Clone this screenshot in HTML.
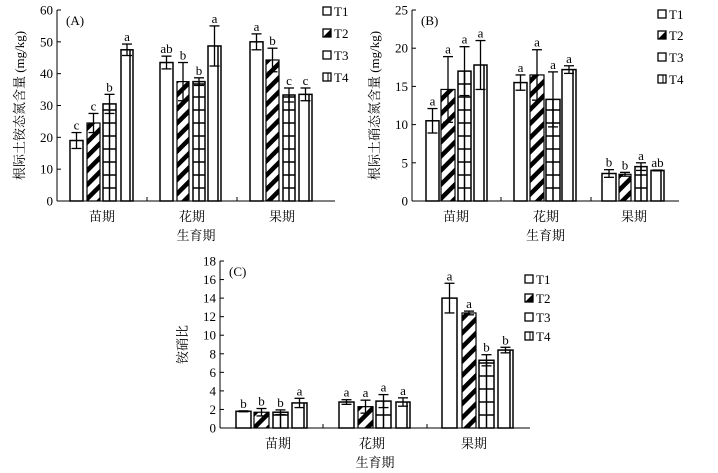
<!DOCTYPE html>
<html><head><meta charset="utf-8"><style>
html,body{margin:0;padding:0;background:#fff;width:718px;height:473px;overflow:hidden}
svg{display:block}
text{font-family:"Liberation Serif","Noto Serif CJK SC",serif;fill:#000}
</style></head><body>
<svg id="s" width="718" height="473" xmlns="http://www.w3.org/2000/svg">
<defs>
<pattern id="diag" patternUnits="userSpaceOnUse" width="10" height="10" patternTransform="rotate(45)">
<rect width="10" height="10" fill="#fff"/><rect x="0" y="0" width="4.5" height="10" fill="#000"/>
</pattern>
</defs>
</svg>
<script>
const S=document.getElementById('s');let h='';
function chart(c){
 const {ax,y0,ytop,xr,max,step,ticks,bars,data,labs,legX,legY,ylab,tag,groupX,dec}=c;
 const sc=(y0-ytop)/max;
 h+=`<line x1="${ax}" y1="${ytop}" x2="${ax}" y2="${y0}" stroke="#000"/>`;
 h+=`<line x1="${ax}" y1="${y0}" x2="${xr}" y2="${y0}" stroke="#000"/>`;
 for(let v=0;v<=max+1e-9;v+=step){const y=y0-v*sc;
  h+=`<line x1="${ax}" y1="${y}" x2="${ax+4}" y2="${y}" stroke="#000"/>`;
  h+=`<text x="${ax-4}" y="${y+4.5}" font-size="13" text-anchor="end">${v}</text>`;}
 ticks.forEach(t=>h+=`<line x1="${t}" y1="${y0}" x2="${t}" y2="${y0-4}" stroke="#000"/>`);
 h+=`<text x="${ax+9}" y="${ytop+15}" font-size="13">${tag}</text>`;
 const gn=['苗期','花期','果期'];
 groupX.forEach((g,i)=>h+=`<text x="${g}" y="${y0+20}" font-size="13" text-anchor="middle">${gn[i]}</text>`);
 h+=`<text x="${(ax+xr)/2}" y="${y0+39}" font-size="13" text-anchor="middle">生育期</text>`;
 h+=`<text transform="translate(${ax-33},${(y0+ytop)/2}) rotate(-90)" font-size="13" text-anchor="middle">${ylab}</text>`;
 for(let g=0;g<3;g++)for(let k=0;k<4;k++){
  const [x1,x2]=bars[g][k];const w=x2-x1;const [v,e]=data[g][k];const y=y0-v*sc;const hh=v*sc;
  if(k==1){h+=`<rect x="${x1}" y="${y}" width="${w}" height="${hh}" fill="url(#diag)" stroke="#000" stroke-width="1.2"/>`;}
  else{h+=`<rect x="${x1}" y="${y}" width="${w}" height="${hh}" fill="#fff" stroke="#000" stroke-width="1.5"/>`;}
  if(k==2){const m=(x1+x2)/2;h+=`<line x1="${m}" y1="${y}" x2="${m}" y2="${y0}" stroke="#000" stroke-width="1.5"/>`;
   for(let yy=y0-13;yy>y+2;yy-=13)h+=`<line x1="${x1}" y1="${yy}" x2="${x2}" y2="${yy}" stroke="#000" stroke-width="1.5"/>`;}
  if(k==3){h+=`<line x1="${x2-3}" y1="${y}" x2="${x2-3}" y2="${y0}" stroke="#000" stroke-width="1.5"/>`;}
  const m=(x1+x2)/2,ya=y0-(v+e)*sc,yb=y0-(v-e)*sc;
  h+=`<line x1="${m}" y1="${ya}" x2="${m}" y2="${yb}" stroke="#000" stroke-width="1.3"/>`;
  h+=`<line x1="${m-5}" y1="${ya}" x2="${m+5}" y2="${ya}" stroke="#000" stroke-width="1.3"/>`;
  h+=`<line x1="${m-5}" y1="${yb}" x2="${m+5}" y2="${yb}" stroke="#000" stroke-width="1.3"/>`;
  h+=`<text x="${m}" y="${ya-3}" font-size="13" text-anchor="middle">${labs[g][k]}</text>`;
 }
 for(let k=0;k<4;k++){const x=legX,y=legY[k];
  if(k==1)h+=`<rect x="${x}" y="${y-4}" width="8" height="8" fill="#fff" stroke="#000" stroke-width="1.3"/><path d="M${x} ${y+4}L${x+8} ${y-4}L${x+8} ${y+4}Z" fill="#000"/>`;
  else h+=`<rect x="${x}" y="${y-4}" width="8" height="8" fill="#fff" stroke="#000" stroke-width="1.3"/>`;
  if(k==3)h+=`<line x1="${x+5}" y1="${y-4}" x2="${x+5}" y2="${y+4}" stroke="#000"/>`;
  h+=`<text x="${x+11}" y="${y+5}" font-size="13">T${k+1}</text>`;}
}
chart({ax:57,y0:201,ytop:10,xr:335,max:60,step:10,ticks:[147,237],groupX:[102,192,282],tag:'(A)',ylab:'根际土铵态氮含量 (mg/kg)',
 bars:[[[70,83],[87,100],[103,116],[121,133]],[[160,173],[177,189],[193,205],[208,221]],[[250,263],[266,279],[283,295],[299,312]]],
 data:[[[19,2.5],[24.5,3],[30.5,3],[47.5,1.8]],[[43.5,2],[37.5,6],[37.5,1.2],[48.7,6.3]],[[50,2.5],[44.3,3.7],[33.3,2.2],[33.5,2]]],
 labs:[['c','c','b','a'],['ab','b','b','a'],['a','b','c','c']],legX:323,legY:[11,33,55,77]});
chart({ax:412,y0:201,ytop:10,xr:679,max:25,step:5,ticks:[501,591],groupX:[456,546,634],tag:'(B)',ylab:'根际土硝态氮含量 (mg/kg)',
 bars:[[[426,439],[441,455],[458,471],[474,487]],[[514,527],[530,544],[546,560],[562,576]],[[602,616],[619,631],[635,647],[651,664]]],
 data:[[[10.5,1.6],[14.6,4.3],[17,3.2],[17.8,3.2]],[[15.5,1],[16.5,3.3],[13.3,3.6],[17.2,0.5]],[[3.6,0.5],[3.5,0.25],[4.5,0.5],[4.0,0.05]]],
 labs:[['a','a','a','a'],['a','a','a','a'],['b','b','a','ab']],legX:658,legY:[14,35,57,79]});
chart({ax:220,y0:428,ytop:261,xr:530,max:18,step:2,ticks:[323,427],groupX:[278,372,474],tag:'(C)',ylab:'铵硝比',
 bars:[[[236,251],[254,269],[273,288],[292,307]],[[339,354],[358,373],[376,391],[396,410]],[[442,457],[462,476],[479,494],[498,513]]],
 data:[[[1.8,0.05],[1.7,0.4],[1.7,0.25],[2.7,0.5]],[[2.8,0.25],[2.3,0.7],[2.9,0.7],[2.8,0.45]],[[14,1.6],[12.4,0.2],[7.3,0.6],[8.4,0.3]]],
 labs:[['b','b','b','a'],['a','a','a','a'],['a','a','b','b']],legX:525,legY:[279,298,317,336]});
S.insertAdjacentHTML('beforeend',h);
</script>
</body></html>
